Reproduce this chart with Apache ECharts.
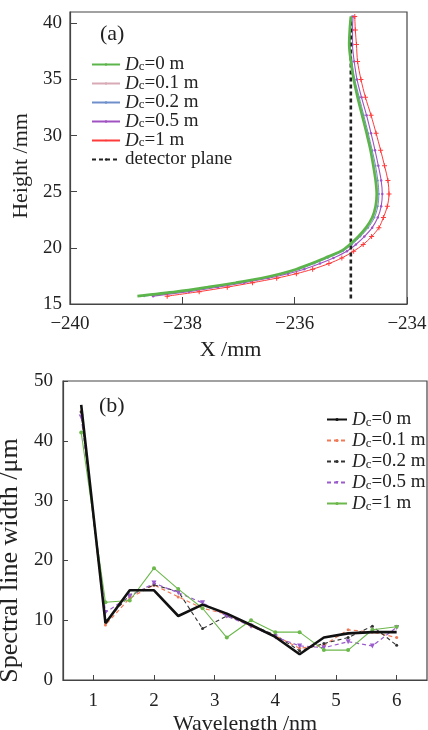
<!DOCTYPE html>
<html>
<head>
<meta charset="utf-8">
<script src="https://cdn.jsdelivr.net/npm/echarts@6/dist/echarts.min.js"></script>
<style>
  html, body { margin: 0; padding: 0; background: #fff; }
  #chart { width: 428px; height: 730px; }
</style>
</head>
<body>
<div id="chart"></div>
<script>
// panel (a): focal curves, x position at each height
var heightA = [15.7, 16.1, 16.5, 16.9, 17.3, 17.7, 18.1, 18.6, 19.1, 19.7, 20.3, 21.0, 21.8, 22.7, 23.7, 24.8, 26.0, 27.3, 28.7, 30.2, 31.8, 33.4, 35.0, 36.6, 38.1, 39.4, 40.6]
var xDc0 = [-238.80, -238.10, -237.55, -237.05, -236.60, -236.25, -235.97, -235.70, -235.46, -235.18, -235.02, -234.87, -234.73, -234.62, -234.56, -234.54, -234.56, -234.60, -234.65, -234.72, -234.80, -234.88, -234.95, -235.00, -235.03, -235.02, -235.00]
var xDc01 = [-238.74, -238.06, -237.52, -237.02, -236.58, -236.23, -235.95, -235.68, -235.44, -235.16, -235.00, -234.85, -234.71, -234.60, -234.54, -234.52, -234.54, -234.58, -234.64, -234.71, -234.79, -234.87, -234.94, -234.99, -235.02, -235.01, -234.99]
var xDc02 = [-238.68, -238.02, -237.48, -236.99, -236.55, -236.20, -235.92, -235.65, -235.41, -235.14, -234.98, -234.83, -234.69, -234.58, -234.52, -234.50, -234.52, -234.56, -234.62, -234.69, -234.77, -234.85, -234.93, -234.98, -235.01, -235.00, -234.98]
var xDc05 = [-238.52, -237.88, -237.37, -236.90, -236.47, -236.12, -235.83, -235.55, -235.31, -235.07, -234.91, -234.76, -234.62, -234.52, -234.46, -234.44, -234.46, -234.51, -234.57, -234.64, -234.72, -234.81, -234.89, -234.94, -234.97, -234.97, -234.96]
var xDc1 = [-238.27, -237.70, -237.20, -236.75, -236.32, -235.97, -235.68, -235.39, -235.16, -234.95, -234.78, -234.63, -234.50, -234.42, -234.35, -234.32, -234.34, -234.40, -234.47, -234.55, -234.64, -234.74, -234.82, -234.88, -234.90, -234.92, -234.93]
var detectorX = [-235, -235]
var detectorY = [15.5, 40.4]
var yTicksA = [15, 20, 25, 30, 35, 40]
var xTicksA = [-240, -238, -236, -234]

// panel (b): spectral line width vs wavelength
var wavelength = [0.8, 1.2, 1.6, 2.0, 2.4, 2.8, 3.2, 3.6, 4.0, 4.4, 4.8, 5.2, 5.6, 6.0]
var wDc0 = [46.0, 9.5, 15.0, 15.0, 10.7, 12.6, 11.1, 9.2, 7.2, 4.3, 7.1, 7.8, 8.0, 8.0]
var wDc01 = [44.9, 9.2, 13.7, 15.9, 13.9, 12.0, 11.0, 9.0, 7.4, 5.3, 5.8, 8.4, 8.0, 7.1]
var wDc02 = [44.8, 9.8, 14.2, 15.9, 14.8, 8.6, 10.7, 9.2, 7.5, 4.9, 6.1, 7.1, 9.0, 5.8]
var wDc05 = [44.0, 11.3, 14.0, 16.2, 14.6, 12.9, 10.7, 9.0, 7.2, 5.7, 5.4, 6.4, 5.7, 8.8]
var wDc1 = [41.4, 13.0, 13.3, 18.7, 15.2, 12.0, 7.1, 10.0, 8.0, 8.0, 5.0, 5.0, 8.4, 8.9]
var yTicksB = [0, 10, 20, 30, 40, 50]
var xTicksB = [1, 2, 3, 4, 5, 6]

var FONT = 'Liberation Serif'
var plusSymbol = 'path://M2,0H3V2H5V3H3V5H2V3H0V2H2Z'

function pairs(xs, ys) {
  return xs.map(function(x, i) { return [x, ys[i]] })
}
function minus(v) {
  return String(v).replace('-', '\u2212')
}
function legendText(name) {
  if (name === 'detector plane') return '{t|detector plane}'
  var v = name.split(':')[1]
  return '{i|D}{s|c}{t|=' + v + ' m}'
}
function richStyle(size, lh) {
  return {
    i: { fontFamily: FONT, fontStyle: 'italic', fontSize: size, lineHeight: lh, color: '#222' },
    s: { fontFamily: FONT, fontSize: 13, lineHeight: 9, verticalAlign: 'bottom', color: '#222' },
    t: { fontFamily: FONT, fontSize: size, lineHeight: lh, color: '#222' }
  }
}

var chart = echarts.init(document.getElementById('chart'))

chart.setOption({
  animation: false,
  backgroundColor: '#fff',
  title: [
    { text: '(a)', left: 95, top: 18, textStyle: { fontFamily: FONT, fontWeight: 'normal', fontSize: 22, color: '#222' } },
    { text: '(b)', left: 94, top: 390, textStyle: { fontFamily: FONT, fontWeight: 'normal', fontSize: 22, color: '#222' } }
  ],
  grid: [
    { left: 70, top: 12, width: 337, height: 292, outerBoundsMode: 'none', show: true, borderColor: '#444', borderWidth: 1.2, backgroundColor: 'transparent' },
    { left: 63, top: 381, right: 1, bottom: 50, outerBoundsMode: 'none', show: true, borderColor: '#444', borderWidth: 1.2, backgroundColor: 'transparent' }
  ],
  legend: [
    {
      orient: 'vertical',
      left: 86,
      top: 50,
      itemWidth: 28,
      itemHeight: 3,
      itemGap: 0,
      data: ['a:0', 'a:0.1', 'a:0.2', 'a:0.5', 'a:1', 'detector plane'],
      formatter: legendText,
      textStyle: { rich: richStyle(19, 17) }
    },
    {
      orient: 'vertical',
      left: 321,
      top: 405,
      itemWidth: 20,
      itemHeight: 4,
      itemGap: 2,
      data: ['b:0', 'b:0.1', 'b:0.2', 'b:0.5', 'b:1'],
      formatter: legendText,
      textStyle: { rich: richStyle(19, 19) }
    }
  ],
  xAxis: [
    {
      gridIndex: 0,
      type: 'value',
      min: -240,
      max: -234,
      name: 'X /mm',
      nameLocation: 'middle',
      nameGap: 35,
      nameTextStyle: { fontFamily: FONT, fontSize: 22, color: '#222', padding: [0, 16, 0, 0] },
      axisLine: { lineStyle: { color: '#444', width: 1.2 } },
      axisTick: { inside: true, length: 7, customValues: xTicksA, lineStyle: { color: '#444' } },
      axisLabel: { customValues: xTicksA, fontFamily: FONT, fontSize: 19, color: '#222', margin: 11, formatter: minus },
      splitLine: { show: false }
    },
    {
      gridIndex: 1,
      type: 'value',
      min: 0.5,
      max: 6.5,
      name: 'Wavelength /nm',
      nameLocation: 'middle',
      nameGap: 33,
      nameTextStyle: { fontFamily: FONT, fontSize: 22, color: '#222' },
      axisLine: { lineStyle: { color: '#444', width: 1.2 } },
      axisTick: { inside: true, length: 5, customValues: xTicksB, lineStyle: { color: '#444' } },
      axisLabel: { customValues: xTicksB, fontFamily: FONT, fontSize: 19, color: '#222', margin: 12 },
      splitLine: { show: false }
    }
  ],
  yAxis: [
    {
      gridIndex: 0,
      type: 'value',
      min: 15,
      max: 41,
      name: 'Height /mm',
      nameLocation: 'middle',
      nameGap: 36,
      nameTextStyle: { fontFamily: FONT, fontSize: 22, color: '#222', padding: [0, 16, 0, 0] },
      axisLine: { lineStyle: { color: '#444', width: 1.2 } },
      axisTick: { inside: true, length: 7, customValues: yTicksA, lineStyle: { color: '#444' } },
      axisLabel: { customValues: yTicksA, fontFamily: FONT, fontSize: 19, color: '#222', margin: 8 },
      splitLine: { show: false }
    },
    {
      gridIndex: 1,
      type: 'value',
      min: 0,
      max: 50,
      name: 'Spectral line width /\u03bcm',
      nameLocation: 'middle',
      nameGap: 28,
      nameTextStyle: { fontFamily: FONT, fontSize: 26, color: '#222', padding: [0, 60, 0, 0] },
      axisLine: { lineStyle: { color: '#444', width: 1.2 } },
      axisTick: { inside: true, length: 5, customValues: yTicksB, lineStyle: { color: '#444' } },
      axisLabel: { customValues: yTicksB, fontFamily: FONT, fontSize: 19, color: '#222', margin: 10 },
      splitLine: { show: false }
    }
  ],
  series: [
    // panel (a)
    {
      name: 'a:0', type: 'line', xAxisIndex: 0, yAxisIndex: 0, z: 5,
      data: pairs(xDc0, heightA), smooth: 0.3, showSymbol: false, symbol: 'none',
      lineStyle: { color: '#5cb54a', width: 2.6 }, itemStyle: { color: '#5cb54a' }
    },
    {
      name: 'a:0.1', type: 'line', xAxisIndex: 0, yAxisIndex: 0, z: 2,
      data: pairs(xDc01, heightA), smooth: 0.3, symbol: 'circle', symbolSize: 2,
      lineStyle: { color: '#d9a9b6', width: 1 }, itemStyle: { color: '#d9a9b6' }
    },
    {
      name: 'a:0.2', type: 'line', xAxisIndex: 0, yAxisIndex: 0, z: 2,
      data: pairs(xDc02, heightA), smooth: 0.3, symbol: 'circle', symbolSize: 2,
      lineStyle: { color: '#6f8fca', width: 1 }, itemStyle: { color: '#6f8fca' }
    },
    {
      name: 'a:0.5', type: 'line', xAxisIndex: 0, yAxisIndex: 0, z: 3,
      data: pairs(xDc05, heightA), smooth: 0.3, symbol: 'circle', symbolSize: 2.5,
      lineStyle: { color: '#a052c2', width: 1.1 }, itemStyle: { color: '#a052c2' }
    },
    {
      name: 'a:1', type: 'line', xAxisIndex: 0, yAxisIndex: 0, z: 3,
      data: pairs(xDc1, heightA), smooth: 0.3, symbol: plusSymbol, symbolSize: 5,
      lineStyle: { color: '#ff3a3a', width: 1 }, itemStyle: { color: '#ff3a3a' }
    },
    {
      name: 'detector plane', type: 'line', xAxisIndex: 0, yAxisIndex: 0, z: 4,
      data: pairs(detectorX, detectorY), symbol: 'none',
      lineStyle: { color: '#222', width: 2.6, type: [4, 3] }, itemStyle: { color: '#222' }
    },
    // panel (b)
    {
      name: 'b:0', type: 'line', xAxisIndex: 1, yAxisIndex: 1, z: 5,
      data: pairs(wavelength, wDc0), symbol: 'none',
      lineStyle: { color: '#111', width: 2.6 }, itemStyle: { color: '#111' }
    },
    {
      name: 'b:0.1', type: 'line', xAxisIndex: 1, yAxisIndex: 1, z: 3,
      data: pairs(wavelength, wDc01), symbol: 'circle', symbolSize: 3,
      lineStyle: { color: '#f07a56', width: 1.2, type: [4, 3] }, itemStyle: { color: '#f07a56' }
    },
    {
      name: 'b:0.2', type: 'line', xAxisIndex: 1, yAxisIndex: 1, z: 3,
      data: pairs(wavelength, wDc02), symbol: 'circle', symbolSize: 3,
      lineStyle: { color: '#333', width: 1.1, type: [4, 3] }, itemStyle: { color: '#333' }
    },
    {
      name: 'b:0.5', type: 'line', xAxisIndex: 1, yAxisIndex: 1, z: 3,
      data: pairs(wavelength, wDc05), symbol: 'triangle', symbolRotate: 180, symbolSize: 5,
      lineStyle: { color: '#9a5ccc', width: 1.2, type: [4, 3] }, itemStyle: { color: '#9a5ccc' }
    },
    {
      name: 'b:1', type: 'line', xAxisIndex: 1, yAxisIndex: 1, z: 4,
      data: pairs(wavelength, wDc1), symbol: 'circle', symbolSize: 4,
      lineStyle: { color: '#6cb84c', width: 1.1 }, itemStyle: { color: '#6cb84c' }
    }
  ]
})
</script>
</body>
</html>
